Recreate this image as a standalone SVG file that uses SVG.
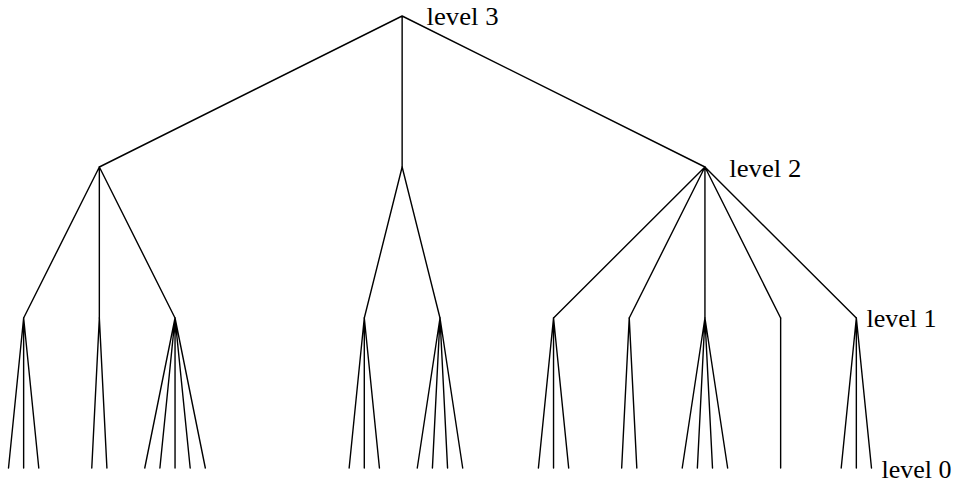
<svg xmlns="http://www.w3.org/2000/svg" width="955" height="482" viewBox="0 0 955 482">
<style>
.e{stroke:#000;stroke-width:1.4;fill:none;stroke-linecap:round}
.t{font-family:"Liberation Serif","DejaVu Serif",serif;font-size:25px;fill:#000}
</style>
<rect width="955" height="482" fill="#fff"/>
<g id="connectors" class="e">
<path d="M402.14,16L99.34,167M402.14,16L402.14,167M402.14,16L704.94,167"/>
<path d="M99.34,167L23.64,318M99.34,167L99.34,318M99.34,167L175.04,318"/>
<path d="M402.14,167L364.29,318M402.14,167L440,318"/>
<path d="M704.94,167L553.54,318M704.94,167L629.24,318M704.94,167L704.94,318M704.94,167L780.64,318M704.94,167L856.34,318"/>
<path d="M23.64,318L8.5,468M23.64,318L23.64,468M23.64,318L38.78,468"/>
<path d="M99.34,318L91.77,468M99.34,318L106.91,468"/>
<path d="M175.04,318L144.76,468M175.04,318L159.9,468M175.04,318L175.04,468M175.04,318L190.18,468M175.04,318L205.32,468"/>
<path d="M364.29,318L349.15,468M364.29,318L364.29,468M364.29,318L379.43,468"/>
<path d="M440,318L417.28,468M440,318L432.42,468M440,318L447.56,468M440,318L462.7,468"/>
<path d="M553.54,318L538.4,468M553.54,318L553.54,468M553.54,318L568.68,468"/>
<path d="M629.24,318L621.67,468M629.24,318L636.81,468"/>
<path d="M704.94,318L682.23,468M704.94,318L697.37,468M704.94,318L712.51,468M704.94,318L727.65,468"/>
<path d="M780.64,318L780.64,468"/>
<path d="M856.34,318L841.2,468M856.34,318L856.34,468M856.34,318L871.48,468"/>
</g>
<g id="root"><text class="t" x="426.5" y="25" textLength="72" lengthAdjust="spacingAndGlyphs">level 3</text></g>
<g id="level2"><text class="t" x="729.3" y="176.5" textLength="72" lengthAdjust="spacingAndGlyphs">level 2</text></g>
<g id="level1"><text class="t" x="866.5" y="327" textLength="70" lengthAdjust="spacingAndGlyphs">level 1</text></g>
<g id="level0"><text class="t" x="881.5" y="478" textLength="70" lengthAdjust="spacingAndGlyphs">level 0</text></g>
</svg>
